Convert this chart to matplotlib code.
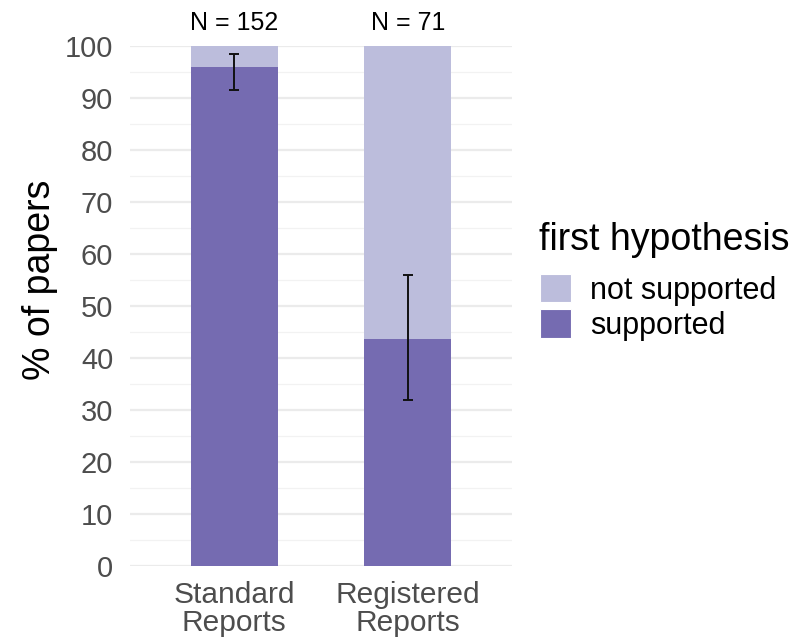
import matplotlib
matplotlib.use("Agg")
import matplotlib.pyplot as plt
from matplotlib.patches import Patch

categories = ["Standard\nReports", "Registered\nReports"]
n_labels = ["N = 152", "N = 71"]
supported = [96.05, 43.66]
not_supported = [3.95, 56.34]
ci_low = [91.6, 31.9]
ci_high = [98.4, 56.0]
yticks = [0, 10, 20, 30, 40, 50, 60, 70, 80, 90, 100]

col_sup = "#756BB1"
col_not = "#BCBDDC"

plt.rcParams['font.family'] = ['Liberation Sans', 'DejaVu Sans']

fig = plt.figure(figsize=(8.09, 6.43), dpi=100)
ax = fig.add_axes([130/809, 1-566/643, (512-130)/809, (566-46)/643])

x = [1, 2]
ax.bar(x, supported, width=0.5, color=col_sup, zorder=3)
ax.bar(x, not_supported, width=0.5, bottom=supported, color=col_not, zorder=3)
yerr = [[s - l for s, l in zip(supported, ci_low)], [h - s for s, h in zip(supported, ci_high)]]
ax.errorbar(x, supported, yerr=yerr, fmt='none', ecolor='#111111', elinewidth=1.4,
            capsize=3.3, capthick=1.4, zorder=4)

for xi, lab in zip(x, n_labels):
    ax.text(xi, 103.1, lab, ha='center', va='baseline', fontsize=18, color='black')

ax.set_xlim(0.4, 2.6)
ax.set_ylim(0, 100)
ax.set_xticks(x)
ax.set_xticklabels(categories, fontsize=21.5, color='#4D4D4D', linespacing=0.98)
ax.set_yticks(yticks)
ax.set_yticklabels([str(v) for v in yticks], fontsize=21, color='#4D4D4D')
ax.set_yticks([v + 5 for v in yticks[:-1]], minor=True)
ax.tick_params(axis='x', length=0, pad=11)
ax.tick_params(axis='y', length=0, pad=12)
ax.tick_params(axis='y', which='minor', length=0)
ax.grid(axis='y', which='major', color='#EBEBEB', linewidth=1.6, zorder=0)
ax.grid(axis='y', which='minor', color='#F2F2F2', linewidth=0.9, zorder=0)
for s in ax.spines.values():
    s.set_visible(False)
ax.set_ylabel("% of papers", fontsize=27, color='black')
ax.yaxis.set_label_coords(-0.236, 0.55)
ax.yaxis.label.set_va('center')

fig.text(539/809, 1-250/643, 'first hypothesis', fontsize=27, color='black',
         ha='left', va='baseline')
handles = [Patch(facecolor=col_not, edgecolor='white', linewidth=0.8, label='not supported'),
           Patch(facecolor=col_sup, edgecolor='white', linewidth=0.8, label='supported')]
leg = fig.legend(handles=handles, loc='upper left',
                 bbox_to_anchor=(540/809, 1-274/643), frameon=False, fontsize=22,
                 handlelength=1.0, handleheight=1.05,
                 handletextpad=0.65, labelspacing=0.12, borderpad=0, borderaxespad=0)

fig.savefig("out.png", dpi=100)
